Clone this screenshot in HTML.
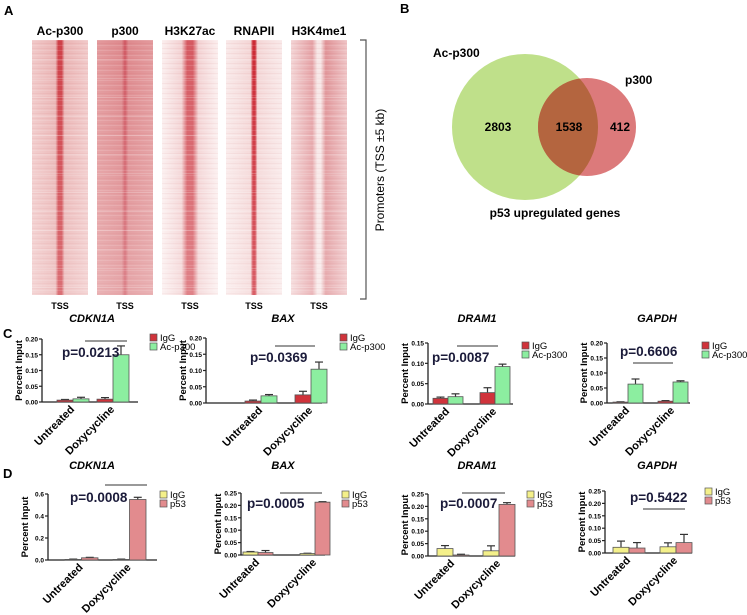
<!DOCTYPE html>
<html><head><meta charset="utf-8">
<style>
html,body{margin:0;padding:0;background:#fff;}
svg{display:block;font-family:"Liberation Sans",Arial,sans-serif;}
text{font-weight:bold;}
</style></head>
<body>
<svg id="fig" width="747" height="615" viewBox="0 0 747 615" xmlns="http://www.w3.org/2000/svg">
<defs>
  <pattern id="rows" width="4" height="5" patternUnits="userSpaceOnUse">
    <rect width="4" height="5" fill="none"/>
    <rect y="0" width="4" height="1" fill="rgba(255,255,255,0.12)"/>
    <rect y="3" width="4" height="1" fill="rgba(180,30,40,0.05)"/>
  </pattern>
  <linearGradient id="fadeDown" x1="0" y1="0" x2="0" y2="1">
    <stop offset="0" stop-color="#fff" stop-opacity="0"/>
    <stop offset="1" stop-color="#fff" stop-opacity="0.25"/>
  </linearGradient>
  <linearGradient id="hmAc" x1="0" x2="1">
    <stop offset="0" stop-color="#f1c9c9"/><stop offset="0.42" stop-color="#eab4b4"/>
    <stop offset="0.47" stop-color="#cf4048"/><stop offset="0.53" stop-color="#cf4048"/>
    <stop offset="0.58" stop-color="#eab4b4"/><stop offset="1" stop-color="#f1c9c9"/>
  </linearGradient>
  <linearGradient id="hmP300" x1="0" x2="1">
    <stop offset="0" stop-color="#e39a9d"/><stop offset="0.44" stop-color="#de8a8e"/>
    <stop offset="0.5" stop-color="#cf5560"/><stop offset="0.56" stop-color="#de8a8e"/>
    <stop offset="1" stop-color="#e39a9d"/>
  </linearGradient>
  <linearGradient id="hmK27" x1="0" x2="1">
    <stop offset="0" stop-color="#fbeeee"/><stop offset="0.35" stop-color="#f3d2d3"/>
    <stop offset="0.45" stop-color="#d65a62"/><stop offset="0.55" stop-color="#d65a62"/>
    <stop offset="0.65" stop-color="#f3d2d3"/><stop offset="1" stop-color="#fbeeee"/>
  </linearGradient>
  <linearGradient id="hmPol" x1="0" x2="1">
    <stop offset="0" stop-color="#f9e9e9"/><stop offset="0.44" stop-color="#f4d6d6"/>
    <stop offset="0.48" stop-color="#cc2a35"/><stop offset="0.52" stop-color="#cc2a35"/>
    <stop offset="0.56" stop-color="#f4d6d6"/><stop offset="1" stop-color="#f9e9e9"/>
  </linearGradient>
  <linearGradient id="hmK4" x1="0" x2="1">
    <stop offset="0" stop-color="#f3d4d5"/><stop offset="0.38" stop-color="#e5a2a6"/>
    <stop offset="0.47" stop-color="#f7e6e6"/><stop offset="0.53" stop-color="#f7e6e6"/>
    <stop offset="0.62" stop-color="#e09498"/><stop offset="1" stop-color="#efc4c6"/>
  </linearGradient>
</defs>

<text x="4" y="15" font-size="13">A</text>
<g id="heatmaps"></g>
<path d="M360 40 H366 V299 H360" fill="none" stroke="#555" stroke-width="1.2"/>
<text transform="translate(384,170) rotate(-90)" font-size="12" style="font-weight:normal" text-anchor="middle">Promoters (TSS ±5 kb)</text>

<text x="400" y="13" font-size="13">B</text>
<g>
  <circle cx="525" cy="127" r="73" fill="#bfe08a"/>
  <circle cx="587" cy="127" r="49" fill="#d96f70" fill-opacity="0.92"/>
  <path d="" id="overlap" fill="#b4653f"/>
  <text x="433" y="57" font-size="12">Ac-p300</text>
  <text x="625" y="84" font-size="12">p300</text>
  <text x="498" y="131" font-size="12" text-anchor="middle">2803</text>
  <text x="569" y="131" font-size="12" text-anchor="middle">1538</text>
  <text x="620" y="131" font-size="12" text-anchor="middle">412</text>
  <text x="555" y="217" font-size="12" text-anchor="middle">p53 upregulated genes</text>
</g>

<text x="3" y="338" font-size="13">C</text>
<text x="3" y="478" font-size="13">D</text>
<g id="charts"></g>
</svg>

<script>
// ---------- Data ----------
const groups = ["Untreated", "Doxycycline"];
const cCdkn1aIgg = [0.006, 0.009];   const cCdkn1aIggErr = [0.002, 0.005];
const cCdkn1aAc  = [0.010, 0.150];   const cCdkn1aAcErr  = [0.005, 0.028];
const cBaxIgg    = [0.006, 0.025];   const cBaxIggErr    = [0.003, 0.011];
const cBaxAc     = [0.022, 0.104];   const cBaxAcErr     = [0.004, 0.022];
const cDram1Igg  = [0.014, 0.028];   const cDram1IggErr  = [0.003, 0.012];
const cDram1Ac   = [0.018, 0.092];   const cDram1AcErr   = [0.007, 0.006];
const cGapdhIgg  = [0.003, 0.006];   const cGapdhIggErr  = [0.001, 0.002];
const cGapdhAc   = [0.063, 0.070];   const cGapdhAcErr   = [0.017, 0.004];
const dCdkn1aIgg = [0.005, 0.005];   const dCdkn1aIggErr = [0.003, 0.003];
const dCdkn1aP53 = [0.020, 0.550];   const dCdkn1aP53Err = [0.004, 0.020];
const dBaxIgg    = [0.012, 0.006];   const dBaxIggErr    = [0.002, 0.001];
const dBaxP53    = [0.010, 0.213];   const dBaxP53Err    = [0.008, 0.002];
const dDram1Igg  = [0.030, 0.021];   const dDram1IggErr  = [0.012, 0.020];
const dDram1P53  = [0.004, 0.208];   const dDram1P53Err  = [0.003, 0.007];
const dGapdhIgg  = [0.023, 0.025];   const dGapdhIggErr  = [0.025, 0.016];
const dGapdhP53  = [0.020, 0.042];   const dGapdhP53Err  = [0.022, 0.033];
const ticks020 = ["0.00","0.05","0.10","0.15","0.20"];
const ticks015 = ["0.00","0.05","0.10","0.15"];
const ticks025 = ["0.00","0.05","0.10","0.15","0.20","0.25"];
const ticks06  = ["0.0","0.2","0.4","0.6"];
const pValues = ["p=0.0213","p=0.0369","p=0.0087","p=0.6606","p=0.0008","p=0.0005","p=0.0007","p=0.5422"];
const genes = ["CDKN1A","BAX","DRAM1","GAPDH"];

const NS = "http://www.w3.org/2000/svg";
function mk(tag, attrs, parent){ const e=document.createElementNS(NS,tag); for(const k in attrs) e.setAttribute(k,attrs[k]); parent.appendChild(e); return e; }

// ---------- Heatmaps ----------
const hm = document.getElementById('heatmaps');
const hmLabels = ["Ac-p300","p300","H3K27ac","RNAPII","H3K4me1"];
const hmFills = ["hmAc","hmP300","hmK27","hmPol","hmK4"];
const hmX = [32,97,162,226,291];
hmLabels.forEach((lab,i)=>{
  const x=hmX[i], w=56;
  let r=mk('rect',{x:x,y:40,width:w,height:255,fill:'url(#'+hmFills[i]+')'},hm);
  
  
  mk('rect',{x:x,y:40,width:w,height:255,fill:'url(#rows)'},hm);
  mk('rect',{x:x,y:40,width:w,height:255,fill:'url(#fadeDown)'},hm);
  for(let y=59;y<295;y+=19) mk('rect',{x:x,y:y,width:w,height:1,fill:'rgba(255,255,255,0.2)'},hm);
  let t=mk('text',{x:x+w/2,y:35,'font-size':12,'text-anchor':'middle'},hm); t.textContent=lab;
  
  
  let s=mk('text',{x:x+w/2,y:309,'font-size':9,'text-anchor':'middle'},hm); s.textContent="TSS";
  
  
});

(function(){
  const c1={x:525,y:127,r:73}, c2={x:587,y:127,r:49};
  const d=c2.x-c1.x; const a=(c1.r*c1.r-c2.r*c2.r+d*d)/(2*d); const h=Math.sqrt(c1.r*c1.r-a*a);
  const px=c1.x+a;
  document.getElementById('overlap').setAttribute('d',
    `M${px} ${c1.y-h} A${c2.r} ${c2.r} 0 0 0 ${px} ${c1.y+h} A${c1.r} ${c1.r} 0 0 0 ${px} ${c1.y-h}Z`);
})();

// ---------- Bar charts ----------
const root=document.getElementById('charts');
const charts=[
 {ax:42,ex:138,y0:402,yt:339,g:[57,97],bw:16,s1:cCdkn1aIgg,e1:cCdkn1aIggErr,s2:cCdkn1aAc,e2:cCdkn1aAcErr,ticks:ticks020,c1:"#d0333b",c2:"#8ceea0",n1:"IgG",n2:"Ac-p300",lx:150,ly:337,px:62,py:357,l:[85,127,341],gene:0,gy:322,gx:92},
 {ax:206,ex:322,y0:403,yt:338,g:[245,295],bw:16,s1:cBaxIgg,e1:cBaxIggErr,s2:cBaxAc,e2:cBaxAcErr,ticks:ticks020,c1:"#d0333b",c2:"#8ceea0",n1:"IgG",n2:"Ac-p300",lx:340,ly:337,px:250,py:362,l:[275,315,346],gene:1,gy:322,gx:283},
 {ax:428,ex:513,y0:404,yt:343,g:[433,480],bw:15,s1:cDram1Igg,e1:cDram1IggErr,s2:cDram1Ac,e2:cDram1AcErr,ticks:ticks015,c1:"#d0333b",c2:"#8ceea0",n1:"IgG",n2:"Ac-p300",lx:522,ly:345,px:432,py:362,l:[457,498,346],gene:2,gy:322,gx:477},
 {ax:607,ex:690,y0:403,yt:343,g:[613,658],bw:15,s1:cGapdhIgg,e1:cGapdhIggErr,s2:cGapdhAc,e2:cGapdhAcErr,ticks:ticks020,c1:"#d0333b",c2:"#8ceea0",n1:"IgG",n2:"Ac-p300",lx:702,ly:345,px:620,py:356,l:[633,673,363],gene:3,gy:322,gx:657},
 {ax:48,ex:157,y0:560,yt:494,g:[65,113],bw:16.5,s1:dCdkn1aIgg,e1:dCdkn1aIggErr,s2:dCdkn1aP53,e2:dCdkn1aP53Err,ticks:ticks06,c1:"#f4f08a",c2:"#e28b8e",n1:"IgG",n2:"p53",lx:160,ly:494,px:70,py:502,l:[105,147,485],gene:0,gy:469,gx:92},
 {ax:241,ex:325,y0:555,yt:493,g:[243,300],bw:15,s1:dBaxIgg,e1:dBaxIggErr,s2:dBaxP53,e2:dBaxP53Err,ticks:ticks025,c1:"#f4f08a",c2:"#e28b8e",n1:"IgG",n2:"p53",lx:342,ly:494,px:247,py:508,l:[280,322,493],gene:1,gy:469,gx:283},
 {ax:428,ex:515,y0:556,yt:494,g:[437,483],bw:16,s1:dDram1Igg,e1:dDram1IggErr,s2:dDram1P53,e2:dDram1P53Err,ticks:ticks025,c1:"#f4f08a",c2:"#e28b8e",n1:"IgG",n2:"p53",lx:527,ly:494,px:440,py:508,l:[462,505,493],gene:2,gy:469,gx:477},
 {ax:605,ex:692,y0:553,yt:491,g:[613,660],bw:16,s1:dGapdhIgg,e1:dGapdhIggErr,s2:dGapdhP53,e2:dGapdhP53Err,ticks:ticks025,c1:"#f4f08a",c2:"#e28b8e",n1:"IgG",n2:"p53",lx:705,ly:491,px:630,py:502,l:[643,685,509],gene:3,gy:469,gx:657}
];

charts.forEach((c,ci)=>{
  const g=mk('g',{},root);
  
  
  const maxT=parseFloat(c.ticks[c.ticks.length-1]);
  const yS=v=>c.y0-(v/maxT)*(c.y0-c.yt);
  let gt=mk('text',{x:c.gx,y:c.gy,'font-size':11,'font-style':'italic','text-anchor':'middle'},g);
  gt.textContent=genes[c.gene];
  
  
  mk('line',{x1:c.ax,y1:c.yt,x2:c.ax,y2:c.y0,stroke:'#222','stroke-width':1.3},g);
  c.ticks.forEach(t=>{
    const y=yS(parseFloat(t));
    mk('line',{x1:c.ax-3,y1:y,x2:c.ax,y2:y,stroke:'#222','stroke-width':1.2},g);
    let tl=mk('text',{x:c.ax-4,y:y+2.5,'font-size':6.5,'text-anchor':'end'},g); tl.textContent=t;
    
    
  });
  mk('line',{x1:c.ax,y1:c.y0,x2:c.ex,y2:c.y0,stroke:'#222','stroke-width':1.3},g);
  let yt=mk('text',{transform:`translate(${c.ax-20},${(c.y0+c.yt)/2}) rotate(-90)`,'font-size':9.5,'text-anchor':'middle'},g);
  yt.textContent="Percent Input";
  
  
  groups.forEach((grp,gi)=>{
    [[c.s1,c.e1,c.c1],[c.s2,c.e2,c.c2]].forEach((s,si)=>{
      const x=c.g[gi]+si*c.bw, v=s[0][gi], e=s[1][gi];
      const yt2=yS(v+e), yv=yS(v);
      mk('line',{x1:x+c.bw/2,y1:yv,x2:x+c.bw/2,y2:yt2,stroke:'#333','stroke-width':1.2},g);
      mk('line',{x1:x+c.bw/2-4,y1:yt2,x2:x+c.bw/2+4,y2:yt2,stroke:'#333','stroke-width':1.2},g);
      let b=mk('rect',{x:x,y:yv,width:c.bw,height:Math.max(0.5,c.y0-yv),fill:s[2],stroke:'#555','stroke-width':0.8},g);
      
      
    });
    const cx=c.g[gi]+c.bw;
    let xl=mk('text',{transform:`translate(${cx+2},${c.y0+8}) rotate(-45)`,'font-size':11,'text-anchor':'end'},g);
    xl.textContent=grp;
    
    
  });
  mk('line',{x1:c.l[0],y1:c.l[2],x2:c.l[1],y2:c.l[2],stroke:'#333','stroke-width':1},g);
  let pt=mk('text',{x:c.px,y:c.py,'font-size':13.5,fill:'#1b1b3a'},g);
  pt.textContent=pValues[ci];
  
  
  [[c.n1,c.c1],[c.n2,c.c2]].forEach((L,li)=>{
    let sq=mk('rect',{x:c.lx,y:c.ly+li*9-3,width:7,height:7,fill:L[1],stroke:'#555','stroke-width':0.7},g);
    
    
    let lt=mk('text',{x:c.lx+10,y:c.ly+li*9+4,'font-size':9.5,style:'font-weight:normal'},g);
    lt.textContent=L[0];
    
    
  });
});
</script>
</body></html>
